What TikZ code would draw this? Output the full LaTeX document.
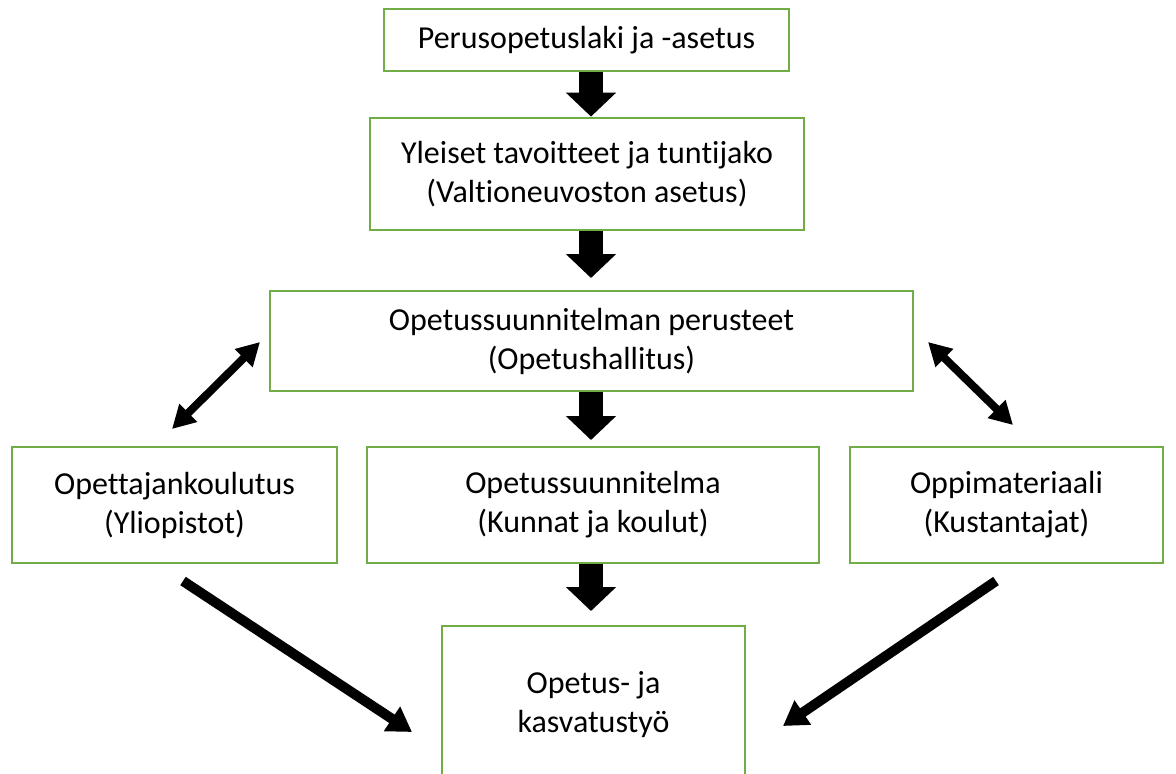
\documentclass[tikz,border=0pt]{standalone}
\usepackage{fontspec}
\setmainfont[Ligatures=NoCommon]{Carlito}
\usetikzlibrary{arrows.meta,calc}
\definecolor{boxgreen}{RGB}{112,173,71}
\tikzset{
  gbox/.style={draw=boxgreen, line width=2.8pt, fill=white, rectangle, align=center, inner sep=0pt,
    font=\fontsize{32}{39}\selectfont},
  blockarrow/.style={line width=24pt, -{Triangle[width=49pt,length=24pt]}},
  dblarrow/.style={line width=8pt, {Triangle[width=24pt,length=23pt]}-{Triangle[width=24pt,length=23pt]}},
  slant/.style={line width=10pt, -{Triangle[width=28pt,length=24pt]}}
}
\begin{document}
\begin{tikzpicture}[x=1pt,y=-1pt]
\useasboundingbox (0,0) rectangle (1176,774);
\begin{scope}
\clip (0,0) rectangle (1176,774);
\node[gbox, minimum width=405pt, minimum height=62pt] (b1) at (586.5,40) {Perusopetuslaki ja -asetus};
\node[gbox, minimum width=434pt, minimum height=112pt] (b2) at (587,174) {Yleiset tavoitteet ja tuntijako\\(Valtioneuvoston asetus)};
\node[gbox, minimum width=643pt, minimum height=100pt] (b3) at (591.5,341) {Opetussuunnitelman perusteet\\(Opetushallitus)};
\node[gbox, minimum width=325pt, minimum height=116pt] (b4) at (174.5,505) {Opettajankoulutus\\(Yliopistot)};
\node[gbox, minimum width=452pt, minimum height=116pt] (b5) at (593,505) {Opetussuunnitelma\\(Kunnat ja koulut)};
\node[gbox, minimum width=313pt, minimum height=116pt] (b6) at (1006.5,505) {Oppimateriaali\\(Kustantajat)};
\node[gbox, minimum width=303pt, minimum height=158pt] (b7) at (593.5,705) {Opetus- ja\\kasvatustyö};
\end{scope}
\coordinate (col) at (591,0);
\coordinate (t2) at (591,278);
\coordinate (t3) at (591,440);
\coordinate (t4) at (591,611);
\draw[blockarrow] (b1.south -| col) -- (b2.north -| col);
\draw[blockarrow] (b2.south -| col) -- (t2);
\draw[blockarrow] (b3.south -| col) -- (t3);
\draw[blockarrow] (b5.south -| col) -- (t4);
\coordinate (dl1) at (260,342);
\coordinate (dl2) at (172,429);
\coordinate (dr1) at (928,342);
\coordinate (dr2) at (1013,425);
\draw[dblarrow] (dl2) -- (dl1);
\draw[dblarrow] (dr1) -- (dr2);
\coordinate (sl0) at (183,581);
\coordinate (sl1) at (412,732);
\coordinate (sr0) at (996,581);
\coordinate (sr1) at (783,726);
\draw[slant] (sl0) -- (sl1);
\draw[slant] (sr0) -- (sr1);
\end{tikzpicture}
\end{document}
